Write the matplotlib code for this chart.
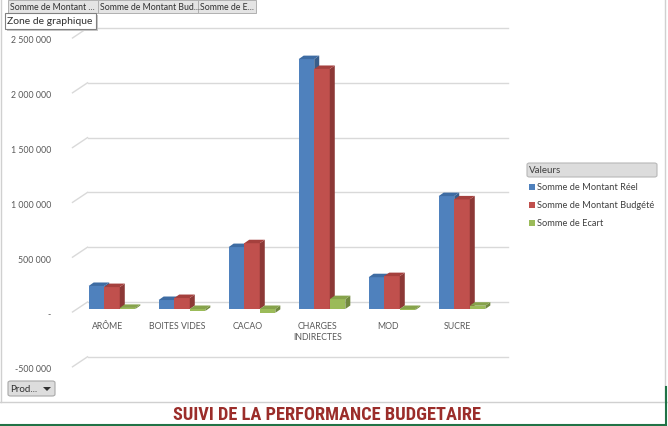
"""Excel-style pivot chart: suivi de la performance budgetaire (3D clustered columns)."""
import matplotlib
matplotlib.use("Agg")
import matplotlib.pyplot as plt
from matplotlib.patches import Polygon, Rectangle, FancyBboxPatch

W, H = 668, 427

categories = ["ARÔME", "BOITES VIDES", "CACAO", "CHARGES\nINDIRECTES", "MOD", "SUCRE"]
reel = [210000, 82000, 565000, 2280000, 290000, 1030000]
budget = [200000, 100000, 600000, 2190000, 300000, 1000000]
ecart = [10000, -18000, -35000, 90000, -10000, 30000]

series_names = ["Somme de Montant Réel", "Somme de Montant Budgété", "Somme de Ecart"]
face_colors = ["#4F81BD", "#C0504D", "#9BBB59"]
side_colors = ["#385D8A", "#8C3836", "#71893F"]
top_colors = ["#3E6CA3", "#A5403D", "#86A34B"]

y_ticks = [-500000, 0, 500000, 1000000, 1500000, 2000000, 2500000]
y_tick_labels = ["-500 000", "-", "500 000", "1 000 000", "1 500 000", "2 000 000", "2 500 000"]

TITLE = "SUIVI DE LA PERFORMANCE BUDGETAIRE"

# plot-plane geometry (category units on x, value units on y)
PX_X = 70.0           # pixels per category
PX_Y = 109.6 / 1e6    # pixels per unit of value
X0_PIX, Y0_PIX = 77.0, 310.0
BACK = (10.5 / PX_X, 7 / PX_Y)
FRONT = (-4.5 / PX_X, -3 / PX_Y)
DEPTH = (5 / PX_X, 3.5 / PX_Y)

plt.rcParams["font.family"] = ["Lato", "DejaVu Sans"]
TITLE_FONT = ["Roboto Condensed", "Barlow Condensed", "Oswald", "Open Sans Condensed", "DejaVu Sans"]


def fx(x):
    return x / W


def fy(y):
    return 1 - y / H


fig = plt.figure(figsize=(W / 100, H / 100), dpi=100)
ax = fig.add_axes([0, 0, 1, 1])
ax.set_xlim(-X0_PIX / PX_X, (W - X0_PIX) / PX_X)
ax.set_ylim(-(H - Y0_PIX) / PX_Y, Y0_PIX / PX_Y)
ax.axis("off")

n = len(categories)
grid_c = "#D9D9D9"
for v, lab in zip(y_ticks, y_tick_labels):
    ax.plot([BACK[0], n + BACK[0]], [v + BACK[1], v + BACK[1]], color=grid_c, lw=1, zorder=1)
    ax.plot([FRONT[0], BACK[0]], [v + FRONT[1], v + BACK[1]], color=grid_c, lw=1, zorder=1)
    ax.text(-26 / PX_X, v + FRONT[1] - 2 / PX_Y, lab, ha="right", va="center", fontsize=6.3,
            color="#595959")

for i, cat in enumerate(categories):
    ax.text(i + 0.5 + FRONT[0], -12 / PX_Y, cat, ha="center", va="top", fontsize=6.3,
            color="#595959", linespacing=1.35)

bw = 1 / 4.5
all_series = [reel, budget, ecart]
z = 2
for i in range(n):
    for j, vals in enumerate(all_series):
        v = vals[i]
        x0 = i + 0.75 * bw + j * bw
        lo, hi = min(v, 0), max(v, 0)
        dx, dy = DEPTH
        ax.add_patch(Rectangle((x0, lo), bw, hi - lo, fc=face_colors[j], ec="none", zorder=z))
        ax.add_patch(Polygon([(x0 + bw, lo), (x0 + bw + dx, lo + dy), (x0 + bw + dx, hi + dy),
                              (x0 + bw, hi)], closed=True, fc=side_colors[j], ec="none", zorder=z))
        ax.add_patch(Polygon([(x0, hi), (x0 + dx, hi + dy), (x0 + bw + dx, hi + dy), (x0 + bw, hi)],
                             closed=True, fc=top_colors[j], ec="none", zorder=z))
        z += 1

# legend
fig.patches.append(FancyBboxPatch((fx(527), fy(178)), fx(130), 14 / H,
                                  boxstyle="round,pad=0,rounding_size=0.004",
                                  transform=fig.transFigure, fc="#DCDCDC", ec="#B8B8B8", lw=0.8))
fig.text(fx(529), fy(171), "Valeurs", fontsize=7, color="#404040", va="center")
for k, name in enumerate(series_names):
    yy = 188 + 18 * k
    fig.patches.append(Rectangle((fx(529), fy(yy + 3)), fx(6), 6 / H, transform=fig.transFigure,
                                 fc=face_colors[k], ec="none"))
    fig.text(fx(537), fy(yy), name, fontsize=6.7, color="#404040", va="center")

# pivot field buttons
buttons = [(8, 98, "Somme de Montant ..."), (98, 198, "Somme de Montant Bud..."),
           (198, 256, "Somme de E...")]
for x_a, x_b, txt in buttons:
    fig.patches.append(Rectangle((fx(x_a), fy(14)), fx(x_b - x_a), 13 / H, transform=fig.transFigure,
                                 fc="#E4E4E4", ec="#B0B0B0", lw=0.7))
    fig.text(fx(x_a + 2), fy(7.5), txt, fontsize=6.3, color="#303030", va="center")

fig.patches.append(Rectangle((fx(7), fy(32)), fx(91), 16 / H, transform=fig.transFigure,
                             fc="#C8C8C8", ec="none"))
fig.patches.append(Rectangle((fx(5), fy(30)), fx(91), 16 / H, transform=fig.transFigure,
                             fc="white", ec="#808080", lw=0.8))
fig.text(fx(7), fy(22), "Zone de graphique", fontsize=7.5, color="#303030", va="center")

fig.patches.append(FancyBboxPatch((fx(8), fy(397)), fx(47), 15 / H,
                                  boxstyle="round,pad=0,rounding_size=0.004",
                                  transform=fig.transFigure, fc="#DDDDDD", ec="#A8A8A8", lw=0.8))
fig.text(fx(10), fy(389.5), "Prod...", fontsize=7, color="#303030", va="center")
fig.patches.append(Polygon([(fx(43), fy(388)), (fx(51), fy(388)), (fx(47), fy(392))], closed=True,
                           transform=fig.transFigure, fc="#303030", ec="none"))

# chart frame and sheet lines
fig.add_artist(plt.Line2D([fx(1), fx(1)], [fy(0), fy(403)], color="#D0D0D0", lw=1))
fig.add_artist(plt.Line2D([fx(0), fx(W)], [fy(403), fy(403)], color="#D0D0D0", lw=1))
fig.add_artist(plt.Line2D([fx(665), fx(665)], [fy(0), fy(403)], color="#D0D0D0", lw=1))
fig.add_artist(plt.Line2D([fx(0), fx(666)], [fy(425.5), fy(425.5)], color="#217346", lw=1.5))
fig.add_artist(plt.Line2D([fx(666), fx(666)], [fy(388), fy(426)], color="#217346", lw=1.5))

fig.text(fx(327), fy(415.5), TITLE, fontsize=13.2, fontweight="bold", color="#9B2D2A",
         ha="center", va="center", family=TITLE_FONT)

fig.savefig("out.png", dpi=100)
